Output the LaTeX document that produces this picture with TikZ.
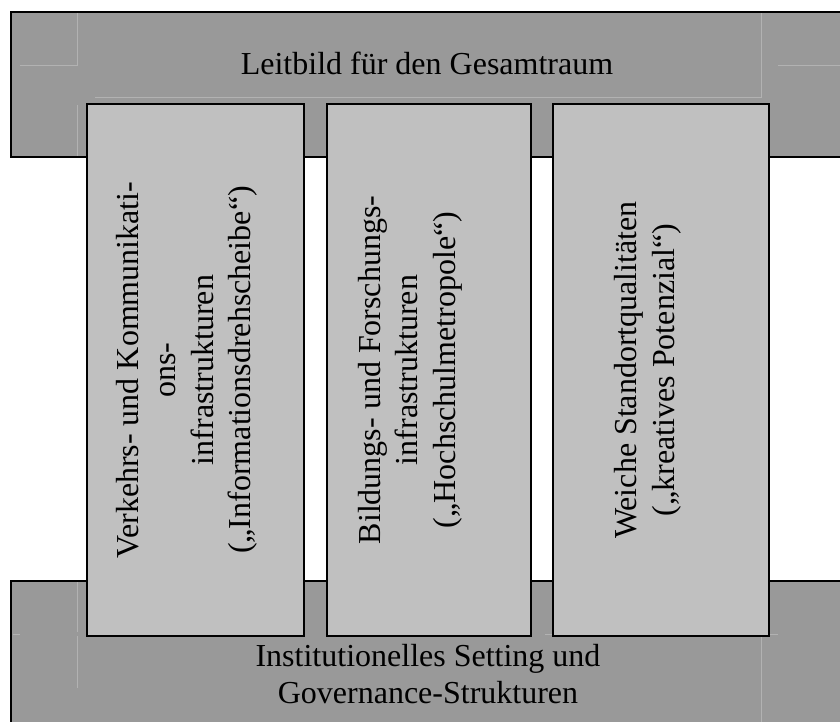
\documentclass[tikz,border=0pt]{standalone}
\usepackage{fontspec}
\setmainfont{Liberation Serif}
\definecolor{darkbar}{RGB}{153,153,153}
\definecolor{pillarfill}{RGB}{192,192,192}
\definecolor{faint}{RGB}{178,178,178}
\tikzset{
  bar/.style={fill=darkbar, draw=black, line width=2.5pt},
  pillar/.style={rectangle, fill=pillarfill, draw=black, line width=2.5pt, inner sep=0pt},
  faintline/.style={draw=faint, line width=0.6pt},
  bigtext/.style={font=\fontsize{32}{37.5}\selectfont, align=center, inner sep=0pt},
}
\begin{document}
\begin{tikzpicture}[x=1pt, y=-1pt]
\useasboundingbox (0,0) rectangle (840,722);
\clip (0,0) rectangle (840,722);
% bars
\path[bar] (880,12) -- (11,12) -- (11,157) -- (880,157);
\path[bar] (880,581) -- (11,581) -- (11,760);
\fill[darkbar] (13,583) rectangle (880,760);
% faint artifact lines
\draw[faintline] (77,13) -- (77,65) -- (20,65);
\draw[faintline] (95,97) -- (761,97) -- (761,13);
\draw[faintline] (778,65) -- (840,65);
\draw[faintline] (77,105) -- (77,156);
\draw[faintline] (77,582) -- (77,632) (77,636) -- (77,688);
\draw[faintline] (13,634) -- (20,634);
\draw[faintline] (545,634) -- (778,634);
\draw[faintline] (761,636) -- (761,722);
% pillars
\node[pillar, minimum width=217pt, minimum height=532pt] (p1) at (195.5,370) {};
\node[pillar, minimum width=204pt, minimum height=532pt] (p2) at (429,370) {};
\node[pillar, minimum width=216pt, minimum height=532pt] (p3) at (661,370) {};
% texts
\node[bigtext] (top) at (427,63) {Leitbild für den Gesamtraum};
\node[bigtext] (bottom) at (428,674) {Institutionelles Setting und\\Governance-Strukturen};
\node[bigtext, rotate=90] (t1) at (187,370) {Verkehrs- und Kommunikati-\\ons-\\infrastrukturen\\(„Informationsdrehscheibe“)};
\node[bigtext, rotate=90] (t2) at (410,370) {Bildungs- und Forschungs-\\infrastrukturen\\(„Hochschulmetropole“)};
\node[bigtext, rotate=90] (t3) at (648,370) {Weiche Standortqualitäten\\(„kreatives Potenzial“)};
\end{tikzpicture}
\end{document}
